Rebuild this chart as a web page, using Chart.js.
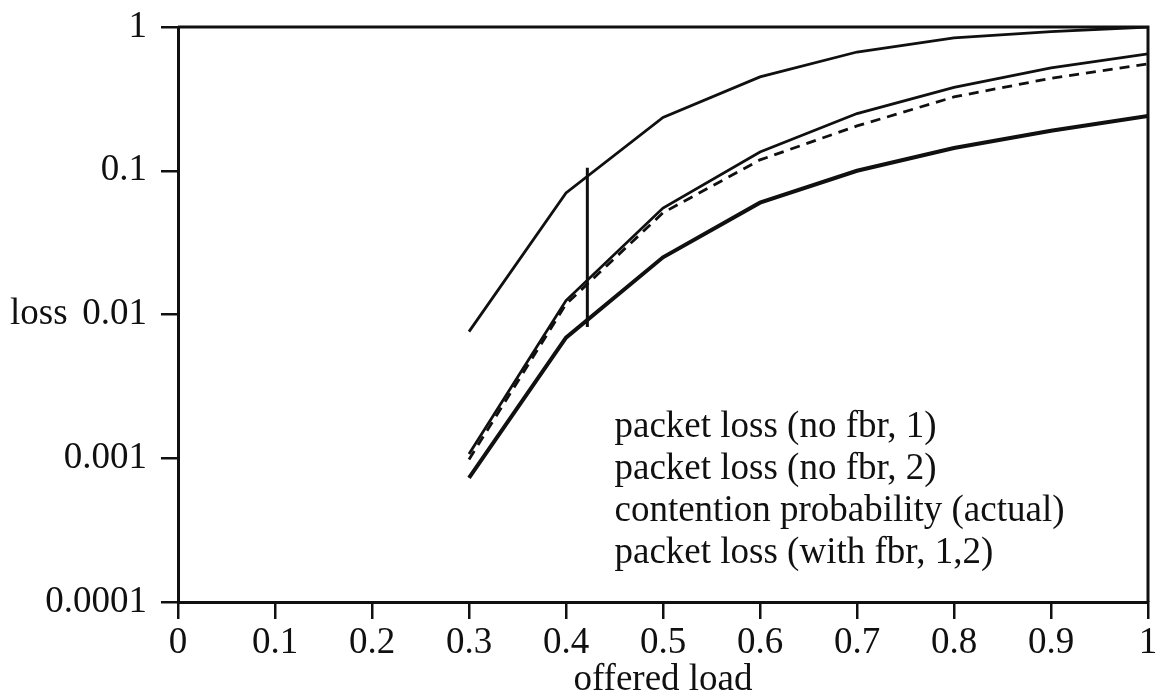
<!DOCTYPE html>
<html>
<head>
<meta charset="utf-8">
<script src="https://cdn.jsdelivr.net/npm/chart.js@4.4.0/dist/chart.umd.min.js"></script>
<style>
html, body { margin: 0; padding: 0; background: #fff; }
</style>
</head>
<body>
<canvas id="grafico" width="1159" height="698"></canvas>
<script>
// datos
var cargas = [0.3, 0.4, 0.5, 0.6, 0.7, 0.8, 0.9, 1.0];
var perdidaSinFbr1 = [0.0076, 0.07, 0.235, 0.45, 0.67, 0.84, 0.93, 1.0];
var perdidaSinFbr2 = [0.00107, 0.0125, 0.055, 0.135, 0.25, 0.38, 0.52, 0.65];
var contencion = [0.00098, 0.0118, 0.051, 0.119, 0.205, 0.326, 0.44, 0.553];
var perdidaConFbr = [0.00073, 0.0069, 0.025, 0.06, 0.1, 0.144, 0.19, 0.24];
var marcaX = [0.422, 0.422];
var marcaY = [0.105, 0.0082];
var ticksX = [0, 0.1, 0.2, 0.3, 0.4, 0.5, 0.6, 0.7, 0.8, 0.9, 1];
var ticksY = [1, 0.1, 0.01, 0.001, 0.0001];
var leyenda = [
    'packet loss (no fbr, 1)',
    'packet loss (no fbr, 2)',
    'contention probability (actual)',
    'packet loss (with fbr, 1,2)'
];

var tinta = '#101010';
var fuente = '"Liberation Serif", "Times New Roman", serif';
var tamano = 37;

function puntos(xs, ys) {
    return xs.map(function (x, i) { return { x: x, y: ys[i] }; });
}

function serie(nombre, ys, ancho, guiones) {
    return {
        label: nombre,
        data: puntos(cargas, ys),
        borderColor: tinta,
        borderWidth: ancho,
        borderDash: guiones || [],
        pointRadius: 0,
        tension: 0,
        fill: false
    };
}

// sin relleno extra de las etiquetas, el area la fija layout.padding
function sinRelleno(s) {
    s.paddingTop = 0;
    s.paddingBottom = 0;
    s.paddingLeft = 0;
    s.paddingRight = 0;
}

// marco superior/derecho y textos sueltos
var extras = {
    id: 'extras',
    afterDraw: function (chart) {
        var ctx = chart.ctx;
        var a = chart.chartArea;
        var sy = chart.scales.y;
        ctx.save();
        ctx.strokeStyle = tinta;
        ctx.lineWidth = 3;
        ctx.beginPath();
        ctx.moveTo(a.left, a.top);
        ctx.lineTo(a.right, a.top);
        ctx.lineTo(a.right, a.bottom);
        ctx.stroke();

        ctx.fillStyle = tinta;
        ctx.font = tamano + 'px ' + fuente;
        ctx.textBaseline = 'middle';
        ctx.textAlign = 'left';
        ctx.fillText('loss', 10, sy.getPixelForValue(0.01));

        var x0 = chart.scales.x.getPixelForValue(0.45);
        leyenda.forEach(function (t, i) {
            ctx.fillText(t, x0, a.bottom - 175 + i * 42);
        });
        ctx.restore();
    }
};

new Chart(document.getElementById('grafico'), {
    type: 'line',
    data: {
        datasets: [
            serie(leyenda[0], perdidaSinFbr1, 2.8),
            serie(leyenda[1], perdidaSinFbr2, 2.8),
            serie(leyenda[2], contencion, 2.8, [10, 7]),
            serie(leyenda[3], perdidaConFbr, 4),
            {
                label: 'marca',
                data: puntos(marcaX, marcaY),
                borderColor: tinta,
                borderWidth: 3,
                pointRadius: 0
            }
        ]
    },
    plugins: [extras],
    options: {
        responsive: false,
        animation: false,
        devicePixelRatio: 1,
        layout: { padding: { left: 0, right: 11, top: 27, bottom: 0 } },
        plugins: {
            legend: { display: false },
            tooltip: { enabled: false }
        },
        scales: {
            x: {
                type: 'linear',
                min: 0,
                max: 1,
                afterBuildTicks: function (s) {
                    s.ticks = ticksX.map(function (v) { return { value: v }; });
                },
                afterFit: function (s) { s.height = 96; sinRelleno(s); },
                ticks: {
                    color: tinta,
                    font: { family: fuente, size: tamano },
                    padding: 2,
                    maxRotation: 0,
                    callback: function (v) { return String(v); }
                },
                grid: {
                    drawOnChartArea: false,
                    drawTicks: true,
                    tickLength: 17,
                    color: tinta,
                    lineWidth: 2.5
                },
                border: { display: true, color: tinta, width: 3 },
                title: {
                    display: true,
                    text: 'offered load',
                    color: tinta,
                    font: { family: fuente, size: tamano },
                    padding: { top: -2, bottom: -4 }
                }
            },
            y: {
                type: 'logarithmic',
                min: 0.0001,
                max: 1,
                afterBuildTicks: function (s) {
                    s.ticks = ticksY.map(function (v) { return { value: v }; });
                },
                afterFit: function (s) { s.width = 178; sinRelleno(s); },
                ticks: {
                    color: tinta,
                    font: { family: fuente, size: tamano },
                    padding: 14,
                    callback: function (v) { return String(v); }
                },
                grid: {
                    drawOnChartArea: false,
                    drawTicks: true,
                    tickLength: 17,
                    color: tinta,
                    lineWidth: 2.5
                },
                border: { display: true, color: tinta, width: 3 }
            }
        }
    }
});
</script>
</body>
</html>
